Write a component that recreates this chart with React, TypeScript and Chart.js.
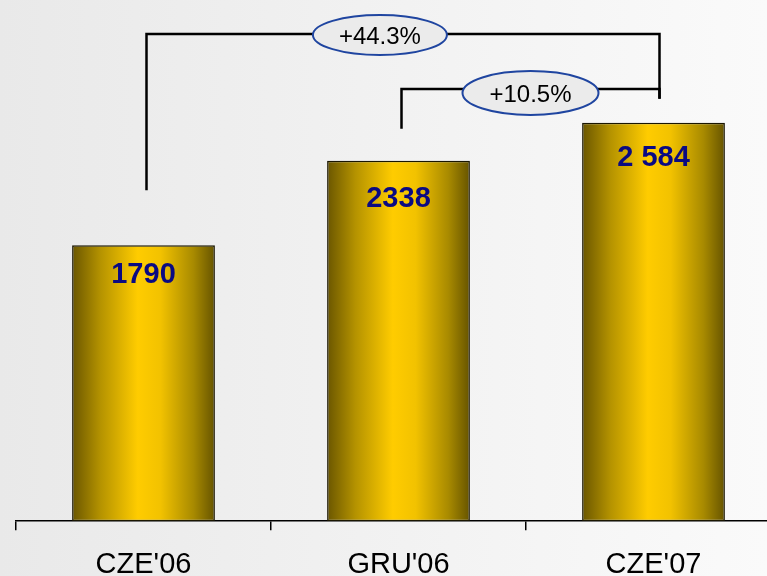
import React, { useEffect, useRef } from 'react';
import { Chart, registerables } from 'chart.js';

Chart.register(...registerables);

const categories = ["CZE'06", "GRU'06", "CZE'07"];
const values = [1790, 2338, 2584];
const valueLabels = ['1790', '2338', '2 584'];
const changeLabels = ['+44.3%', '+10.5%'];
const changeFrom = [0, 1];
const changeTo = [2, 2];

const FONT = "'Liberation Sans', Arial, Helvetica, sans-serif";
const BAR_PCT = 0.56;

// styling (pixels)
const valueLabelOffsets = [27, 36, 33];
const bracketLevels = [34, 89];
const bracketFromGap = [55, 32];
const bracketToGap = [24, 24];
const ellipseFrac = [0.455, 0.5];
const ellipseDy = [1, 4];
const ellipseRx = [67, 68];
const ellipseRy = [20, 22];

const overlayPlugin = {
  id: 'overlay',
  beforeDraw(chart: any) {
    const { ctx, width, height } = chart;
    ctx.save();
    const g = ctx.createLinearGradient(0, 0, 767, 0);
    g.addColorStop(0, '#e9e9e9');
    g.addColorStop(1, '#fafafa');
    ctx.fillStyle = g;
    ctx.fillRect(0, 0, width, height);
    ctx.restore();
  },
  afterDatasetsDraw(chart: any) {
    const { ctx } = chart;
    const xs = chart.scales.x;
    const ys = chart.scales.y;
    ctx.save();
    // value labels
    ctx.font = `bold 29px ${FONT}`;
    ctx.fillStyle = '#0a0a82';
    ctx.textAlign = 'center';
    ctx.textBaseline = 'alphabetic';
    values.forEach((v, i) => {
      const x = xs.getPixelForValue(i);
      const y = ys.getPixelForValue(v);
      ctx.fillText(valueLabels[i], x, y + valueLabelOffsets[i] + 10.5);
    });
    // brackets
    changeLabels.forEach((lab, k) => {
      const x1 = xs.getPixelForValue(changeFrom[k]) + 3;
      const x2 = xs.getPixelForValue(changeTo[k]) + 6;
      const y1 = ys.getPixelForValue(values[changeFrom[k]]) - bracketFromGap[k];
      const y2 = ys.getPixelForValue(values[changeTo[k]]) - bracketToGap[k];
      const ly = bracketLevels[k];
      ctx.strokeStyle = '#000';
      ctx.lineWidth = 2.5;
      ctx.beginPath();
      ctx.moveTo(x1, y1);
      ctx.lineTo(x1, ly);
      ctx.lineTo(x2, ly);
      ctx.lineTo(x2, y2);
      ctx.stroke();
      const cx = x1 + (x2 - x1) * ellipseFrac[k];
      const cy = ly + ellipseDy[k];
      ctx.beginPath();
      ctx.ellipse(cx, cy, ellipseRx[k], ellipseRy[k], 0, 0, Math.PI * 2);
      ctx.fillStyle = '#ebebeb';
      ctx.fill();
      ctx.strokeStyle = '#1f45a0';
      ctx.lineWidth = 2;
      ctx.stroke();
      ctx.fillStyle = '#000';
      ctx.font = `24px ${FONT}`;
      ctx.textAlign = 'center';
      ctx.textBaseline = 'alphabetic';
      ctx.fillText(lab, cx, cy + 9);
    });
    ctx.restore();
  },
};

export default function App() {
  const ref = useRef<HTMLCanvasElement>(null);
  useEffect(() => {
    if (!ref.current) return;
    const chart = new Chart(ref.current, {
      type: 'bar',
      data: {
        labels: categories,
        datasets: [
          {
            data: values,
            barPercentage: BAR_PCT,
            categoryPercentage: 1,
            borderWidth: 1.5,
            borderColor: '#1a1600',
            borderSkipped: false,
            backgroundColor: (c: any) => {
              const ch = c.chart;
              const xs = ch.scales?.x;
              if (!xs || c.dataIndex === undefined) return '#ffcc00';
              const cw = (xs.right - xs.left) / categories.length;
              const w = cw * BAR_PCT;
              const cx = xs.getPixelForValue(c.dataIndex);
              if (!isFinite(cx) || !isFinite(w) || w <= 0) return '#ffcc00';
              const g = ch.ctx.createLinearGradient(cx - w / 2, 0, cx + w / 2, 0);
              g.addColorStop(0, '#6a5600');
              g.addColorStop(0.2, '#b59300');
              g.addColorStop(0.46, '#ffcc00');
              g.addColorStop(0.62, '#f2c200');
              g.addColorStop(0.85, '#a88a00');
              g.addColorStop(1, '#665400');
              return g;
            },
          },
        ],
      },
      options: {
        animation: false,
        responsive: false,
        devicePixelRatio: 1,
        layout: { padding: { left: 16, right: 19, top: 0, bottom: 0 } },
        plugins: { legend: { display: false }, tooltip: { enabled: false } },
        scales: {
          x: {
            offset: true,
            grid: {
              display: true,
              drawOnChartArea: false,
              drawTicks: true,
              tickLength: 9,
              color: '#000',
              lineWidth: 1.5,
            },
            border: { display: true, color: '#000', width: 1.5 },
            ticks: {
              font: { family: FONT, size: 29, lineHeight: 1.2 },
              color: '#000',
              padding: 17,
            },
          },
          y: { display: false, min: 0, max: 3380 },
        },
      },
      plugins: [overlayPlugin],
    });
    return () => chart.destroy();
  }, []);
  return (
    <div style={{ position: 'fixed', left: 0, top: 0, width: 767, height: 576, overflow: 'hidden' }}>
      <canvas ref={ref} width={800} height={599} style={{ display: 'block' }} />
    </div>
  );
}
